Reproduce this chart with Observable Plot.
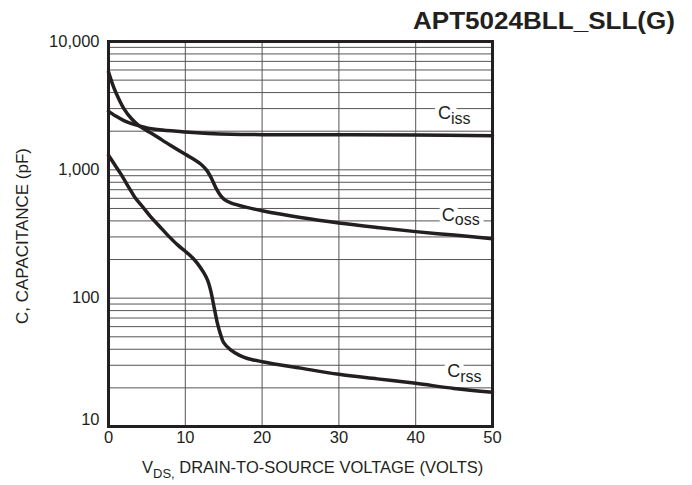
<!DOCTYPE html>
<html>
<head>
<meta charset="utf-8">
<script src="https://cdn.jsdelivr.net/npm/d3@7"></script>
<script src="https://cdn.jsdelivr.net/npm/@observablehq/plot@0.6"></script>
<style>
  html, body { margin: 0; padding: 0; background: #fff; }
  #chart { width: 692px; height: 485px; overflow: hidden; }
</style>
</head>
<body>
<div id="chart"></div>
<script>
// ---- data ----
const cissV = [0, 0.5, 1, 2, 3, 4, 5, 7, 10, 13, 16, 20, 30, 40, 50];
const cissC = [2870, 2730, 2610, 2420, 2290, 2200, 2120, 2040, 1970, 1920, 1890, 1880, 1875, 1865, 1840];

const cossV = [0, 0.5, 1, 2, 3, 4, 5, 6, 8, 10, 11, 12, 12.8, 13.4, 14, 14.6, 15.2, 16, 18, 20, 25, 30, 35, 40, 45, 50];
const cossC = [5800, 4700, 3950, 3000, 2500, 2200, 2020, 1860, 1560, 1320, 1220, 1110, 990, 860, 720, 630, 580, 550, 510, 480, 425, 385, 355, 330, 310, 290];

const crssV = [0, 0.75, 1.6, 2.7, 3.4, 4.5, 5.5, 6.6, 7.7, 9, 10, 11, 11.6, 12.4, 12.9, 13.3, 13.7, 14.2, 14.6, 15, 15.9, 17, 18, 20, 25, 30, 35, 40, 45, 50];
const crssC = [1300, 1110, 930, 720, 615, 510, 430, 365, 310, 260, 232, 205, 186, 158, 138, 115, 88, 63, 52, 45, 39.5, 36, 34, 32, 28.5, 25.5, 23.5, 21.7, 19.8, 18.5];

const xTicks = [0, 10, 20, 30, 40, 50];
const xGrid = [10, 20, 30, 40];
const yTicks = [100, 1000, 5000, 10000];
const yTickBottom = [10];
const yGrid = [20, 30, 40, 50, 60, 70, 80, 90,
               100, 200, 300, 400, 500, 600, 700, 800, 900,
               1000, 2000, 3000, 4000, 5000, 6000, 7000, 8000, 9000];

const labelV = [42.9, 43.4, 44.1];
const labelC = [2750, 442, 26.8];
const labelSub = ["iss", "oss", "rss"];

const titleText = "APT5024BLL_SLL(G)";
const yTitle = "C, CAPACITANCE (pF)";
const xTitleMain = "V";
const xTitleSub = "DS";
const xTitleRest = " DRAIN-TO-SOURCE VOLTAGE (VOLTS)";
const figText = "FIGURE 11, CAPACITANCE vs DRAIN-TO-SOURCE VOLTAGE";

// ---- build tables ----
const toRows = (vs, cs) => vs.map((v, i) => ({v, c: cs[i]}));
const ciss = toRows(cissV, cissC);
const coss = toRows(cossV, cossC);
const crss = toRows(crssV, crssC);
const labels = labelV.map((v, i) => ({v, c: labelC[i], sub: labelSub[i]}));

const ink = "#231f20";
const fmt = d3.format(",");

const plot = Plot.plot({
  width: 692,
  height: 485,
  marginLeft: 108,
  marginRight: 200,
  marginTop: 41,
  marginBottom: 59,
  style: {fontFamily: "'Liberation Sans', Arial, sans-serif", fontSize: "16px", color: ink, background: "#fff"},
  x: {domain: [0, 50]},
  y: {type: "log", domain: [10, 10000]},
  marks: [
    Plot.ruleY(yGrid, {stroke: "#555", strokeWidth: 1}),
    Plot.ruleX(xGrid, {stroke: "#555", strokeWidth: 1}),
    Plot.text(labels, {x: "v", y: "c", text: () => "C", textAnchor: "start", fontSize: 18, fill: "none", stroke: "white", strokeWidth: 9}),
    Plot.text(labels, {x: "v", y: "c", text: "sub", textAnchor: "start", fontSize: 16, dx: 13, dy: 5, fill: "none", stroke: "white", strokeWidth: 9}),
    Plot.text(labels, {x: "v", y: "c", text: () => "C", textAnchor: "start", fontSize: 18, fill: ink}),
    Plot.text(labels, {x: "v", y: "c", text: "sub", textAnchor: "start", fontSize: 16, dx: 13, dy: 5, fill: ink}),
    Plot.line(ciss, {x: "v", y: "c", stroke: ink, strokeWidth: 3.5, curve: "catmull-rom"}),
    Plot.line(coss, {x: "v", y: "c", stroke: ink, strokeWidth: 3.5, curve: "catmull-rom"}),
    Plot.line(crss, {x: "v", y: "c", stroke: ink, strokeWidth: 3.5, curve: "catmull-rom"}),
    Plot.frame({stroke: ink, strokeWidth: 3}),
    Plot.axisX({ticks: xTicks, tickSize: 0, tickPadding: 5, tickFormat: d => String(d), fontSize: 16.5, label: null}),
    Plot.axisY({ticks: yTicks, tickSize: 0, tickPadding: 9, tickFormat: fmt, fontSize: 16.5, dy: 0, label: null}),
    Plot.axisY({ticks: yTickBottom, tickSize: 0, tickPadding: 9, tickFormat: fmt, fontSize: 16.5, dy: -7, label: null})
  ]
});

document.getElementById("chart").appendChild(plot);

// ---- titles (layout text) ----
const svg = d3.select(plot);
svg.append("text")
  .attr("x", 413).attr("y", 28.5)
  .attr("text-anchor", "start")
  .attr("textLength", 262).attr("lengthAdjust", "spacingAndGlyphs")
  .attr("font-size", 23).attr("font-weight", "bold")
  .attr("fill", ink)
  .text(titleText);

svg.append("text")
  .attr("transform", "translate(28,236) rotate(-90)")
  .attr("text-anchor", "middle")
  .attr("font-size", 17)
  .attr("fill", ink)
  .text(yTitle);

const xt = svg.append("text")
  .attr("x", 142).attr("y", 473)
  .attr("text-anchor", "start")
  .attr("font-size", 16.5)
  .attr("fill", ink);
xt.append("tspan").text(xTitleMain);
xt.append("tspan").attr("font-size", 13).attr("dy", 5).text(xTitleSub + ",");
xt.append("tspan").attr("dy", -5).text(xTitleRest);

svg.append("text")
  .attr("x", 40).attr("y", 497.5)
  .attr("text-anchor", "start")
  .attr("textLength", 524).attr("lengthAdjust", "spacingAndGlyphs")
  .attr("font-size", 18).attr("font-weight", "bold")
  .attr("fill", "#444")
  .text(figText);
</script>
</body>
</html>
